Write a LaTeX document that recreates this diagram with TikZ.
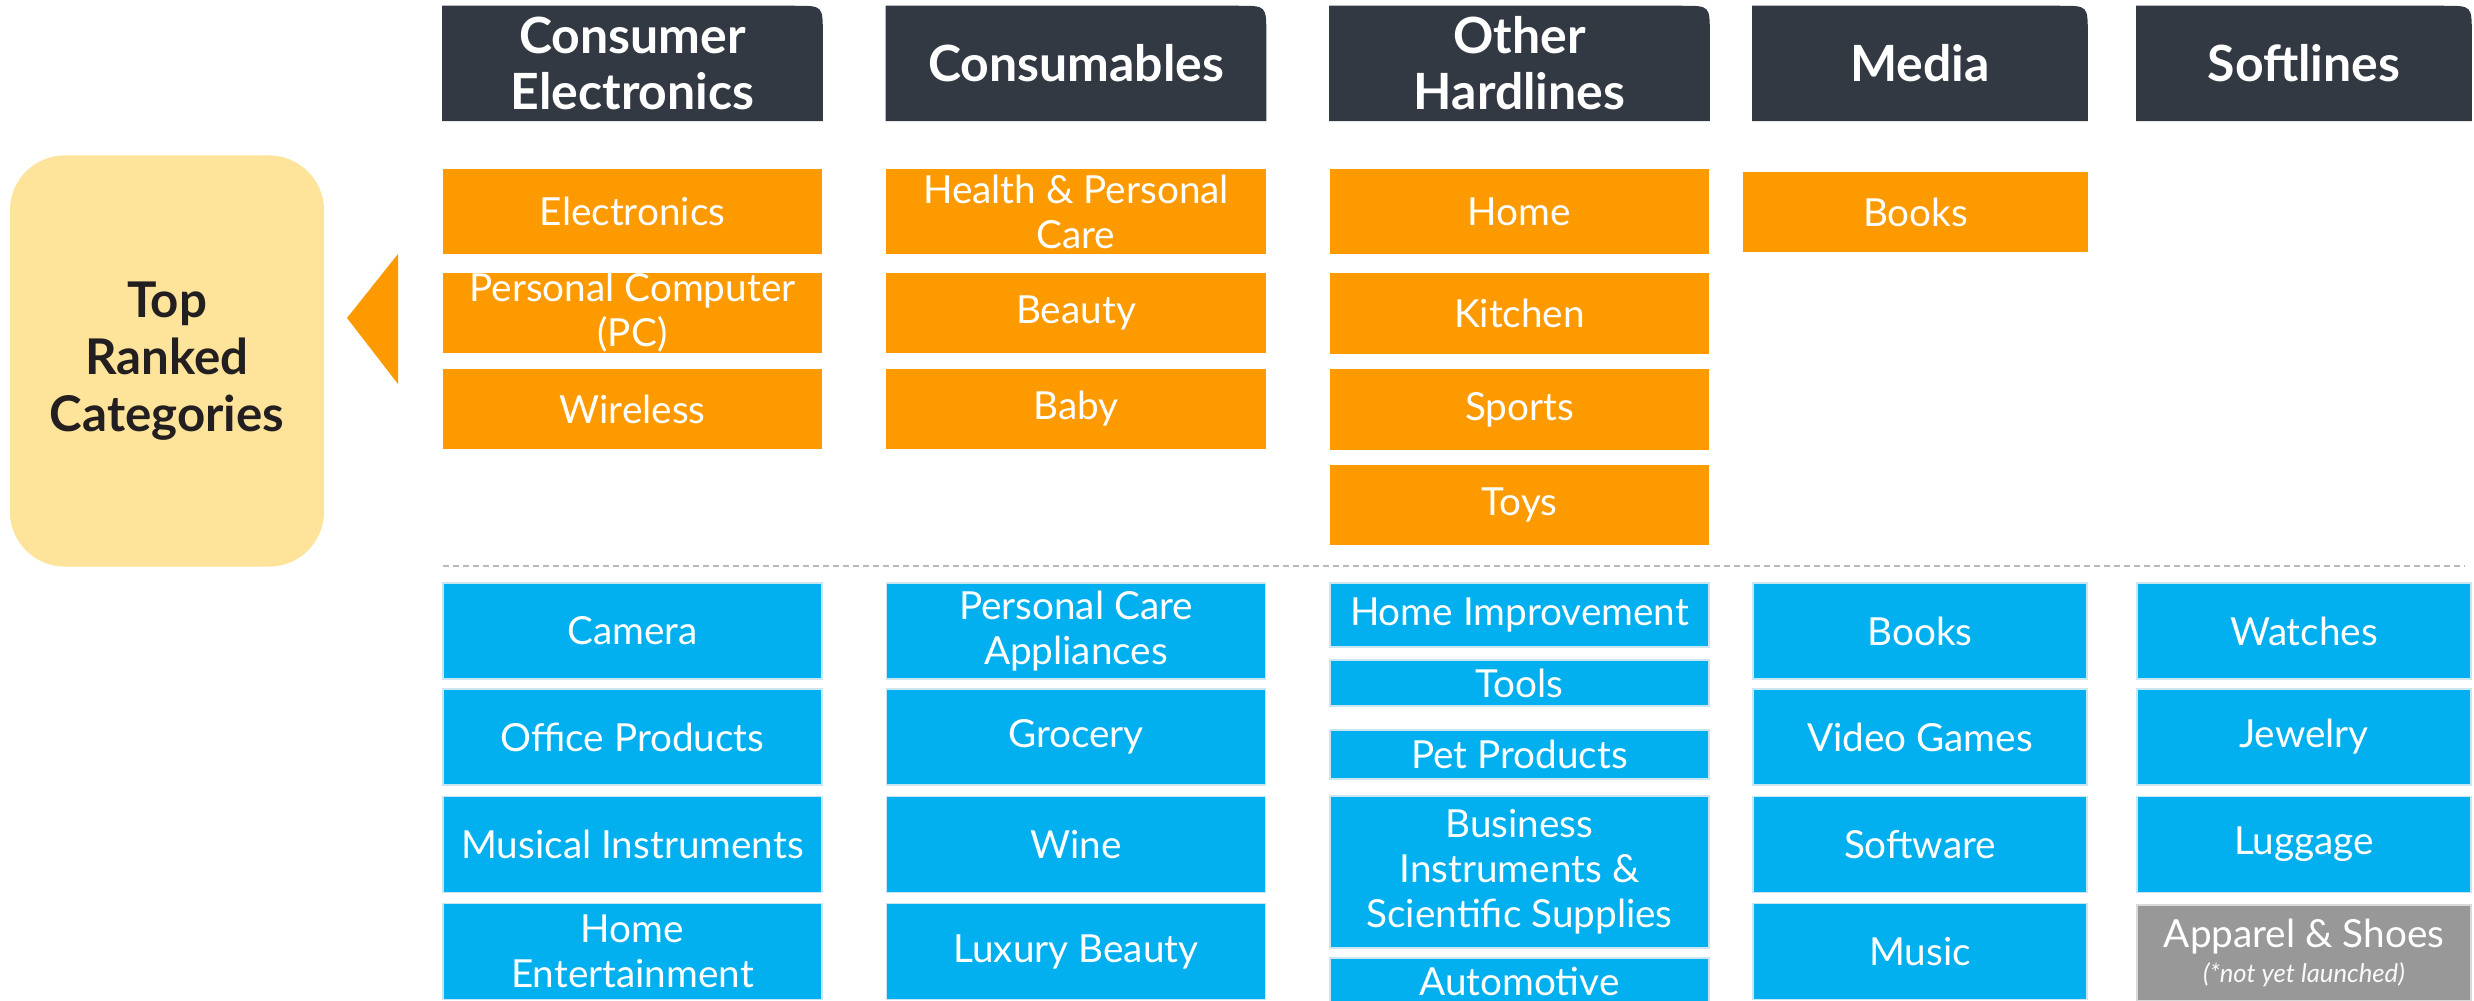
\documentclass[tikz,border=0pt]{standalone}
\usepackage{fontspec}
\setmainfont{Lato}
\usetikzlibrary{positioning,backgrounds}

\definecolor{hdrgray}{HTML}{333942}
\definecolor{toporange}{HTML}{FD9A00}
\definecolor{catblue}{HTML}{03B0EF}
\definecolor{catedge}{HTML}{C9E6F2}
\definecolor{rankyellow}{HTML}{FDE49A}
\definecolor{soongray}{HTML}{989898}
\definecolor{inkdark}{HTML}{231F20}

\begin{document}
\begin{tikzpicture}[
        x=0.01cm, y=-0.01cm,
        every node/.style={font=\fontsize{11}{12.8}\selectfont, text=white, align=center, inner sep=0pt},
        hdr/.style={minimum width=3.79cm, minimum height=1.14cm, font=\fontsize{14.2}{15.9}\selectfont\bfseries},
        topcat/.style={fill=toporange, minimum width=3.79cm, minimum height=0.8cm},
        cat/.style={fill=catblue, draw=catedge, line width=0.015cm, minimum width=3.79cm, minimum height=0.96cm},
    ]
    \useasboundingbox (0,0) rectangle (2474,1001);
    \clip (0,0) rectangle (2474,1001);

    % column headers
    \node[hdr] (ce) at (632.5,63.5) {Consumer\\Electronics};
    \node[hdr] (cons) at (1076,63.5) {Consumables};
    \node[hdr] (oh) at (1519.5,63.5) {Other\\Hardlines};
    \node[hdr, minimum width=3.34cm] (med) at (1920,63.5) {Media};
    \node[hdr, minimum width=3.34cm] (soft) at (2304,63.5) {Softlines};

    % top ranked
    \node[fill=rankyellow, rounded corners=0.55cm, minimum width=3.14cm, minimum height=4.11cm,
        text=inkdark, font=\fontsize{14}{16.2}\selectfont\bfseries] (rank) at (167,361) {Top\\Ranked\\Categories};
    \fill[toporange] (347,318) -- (398,254) -- (398,384) -- cycle;

    \node[topcat, minimum height=0.85cm] (elec) at (632.5,211.5) {Electronics};
    \node[topcat] (pc) at (632.5,313) {Personal Computer\\(PC)};
    \node[topcat] (wless) at (632.5,409) {Wireless};

    \node[topcat, minimum height=0.85cm] (hpc) at (1076,211.5) {Health \& Personal\\Care};
    \node[topcat] (beauty) at (1076,313) {Beauty};
    \node[topcat] (baby) at (1076,409) {Baby};

    \node[topcat, minimum height=0.85cm] (home) at (1519.5,211.5) {Home};
    \node[topcat, minimum height=0.81cm] (kitchen) at (1519.5,313.5) {Kitchen};
    \node[topcat, minimum height=0.81cm] (sports) at (1519.5,409.5) {Sports};
    \node[topcat] (toys) at (1519.5,505) {Toys};

    \node[topcat, minimum width=3.45cm] (mbooks) at (1915.5,212) {Books};

    \draw[gray!55, line width=0.02cm, dash pattern=on 0.06cm off 0.04cm] (443,566) -- (2465,566);

    % other categories
    \node[cat] (camera) at (632.5,631) {Camera};
    \node[cat] (office) at (632.5,737) {Office Products};
    \node[cat] (music) at (632.5,844.5) {Musical Instruments};
    \node[cat] (hent) at (632.5,951.5) {Home\\Entertainment};

    \node[cat] (pca) at (1076,631) {Personal Care\\Appliances};
    \node[cat] (grocery) at (1076,737) {Grocery};
    \node[cat] (wine) at (1076,844.5) {Wine};
    \node[cat] (lux) at (1076,951.5) {Luxury Beauty};

    \node[cat, minimum height=0.64cm] (himp) at (1519.5,615) {Home Improvement};
    \node[cat, minimum height=0.46cm] (tools) at (1519.5,683) {Tools};
    \node[cat, minimum height=0.49cm] (pet) at (1519.5,754.5) {Pet Products};
    \node[cat, minimum height=1.52cm] (bis) at (1519.5,872) {Business\\Instruments \&\\Scientific Supplies};
    \node[cat, minimum height=0.46cm] (auto) at (1519.5,981) {Automotive};

    \node[cat, minimum width=3.34cm] (books) at (1920,631) {Books};
    \node[cat, minimum width=3.34cm] (vgames) at (1920,737) {Video Games};
    \node[cat, minimum width=3.34cm] (softw) at (1920,844.5) {Software};
    \node[cat, minimum width=3.34cm] (musicm) at (1920,951.5) {Music};

    \node[cat, minimum width=3.34cm] (watch) at (2304,631) {Watches};
    \node[cat, minimum width=3.34cm] (jewel) at (2304,737) {Jewelry};
    \node[cat, minimum width=3.34cm] (lugg) at (2304,844.5) {Luggage};
    \node[cat, minimum width=3.34cm, fill=soongray, draw=gray!30] (apparel) at (2304,953)
        {Apparel \& Shoes\\[-0.1cm]{\fontsize{7.3}{8.5}\selectfont\itshape\color{white!95!gray}(*not yet launched)}};

    % header tabs, round top right corner only
    \begin{scope}[on background layer]
        \foreach \h in {ce,cons,oh,med,soft}
            \fill[hdrgray] (\h.south west) -- (\h.north west) -- ([xshift=-0.28cm]\h.north east)
                .. controls (\h.north east) .. ([yshift=-0.28cm]\h.north east) -- (\h.south east) -- cycle;
    \end{scope}
\end{tikzpicture}
\end{document}
